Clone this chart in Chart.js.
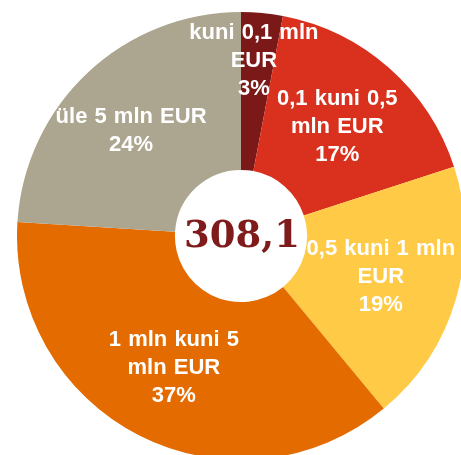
<!DOCTYPE html>
<html>
<head>
<meta charset="utf-8">
<script src="https://cdn.jsdelivr.net/npm/chart.js@4/dist/chart.umd.min.js"></script>
<style>
  html, body { margin: 0; padding: 0; background: #ffffff; overflow: hidden; width: 461px; height: 455px; }
  #wrap { position: absolute; left: 17px; top: 12px; width: 448px; height: 448px; }
</style>
</head>
<body>
<div id="wrap"><canvas id="c" width="448" height="448"></canvas></div>
<script>
// ---- data ----
const categories = ["kuni 0,1 mln EUR", "0,1 kuni 0,5 mln EUR", "0,5 kuni 1 mln EUR", "1 mln kuni 5 mln EUR", "üle 5 mln EUR"];
const labelLines = [
  ["kuni 0,1 mln", "EUR"],
  ["0,1 kuni 0,5", "mln EUR"],
  ["0,5 kuni 1 mln", "EUR"],
  ["1 mln kuni 5", "mln EUR"],
  ["üle 5 mln EUR"]
];
const shares = [3, 17, 19, 37, 24];
const totalLabel = "308,1";

// ---- style ----
const colors = ["#7B1818", "#D9311E", "#FFCA45", "#E36B00", "#ACA590"];
const labelRadiusFrac = [0.785, 0.65, 0.65, 0.66, 0.68];
const labelAngleAdj = [-1.2, 0, 0, 0, -3];

const labelPlugin = {
  id: 'sliceLabels',
  afterDatasetsDraw(chart) {
    const ctx = chart.ctx;
    const meta = chart.getDatasetMeta(0);
    ctx.save();
    ctx.fillStyle = '#ffffff';
    ctx.textAlign = 'center';
    ctx.textBaseline = 'middle';
    ctx.font = 'bold 22px "Liberation Sans", Arial, sans-serif';
    try { ctx.wordSpacing = '1px'; } catch (e) {}
    meta.data.forEach((arc, i) => {
      const p = arc.getProps(['x', 'y', 'startAngle', 'endAngle', 'outerRadius'], true);
      const mid = (p.startAngle + p.endAngle) / 2 + labelAngleAdj[i] * Math.PI / 180;
      const r = p.outerRadius * labelRadiusFrac[i];
      const cx = p.x + Math.cos(mid) * r;
      const cy = p.y + Math.sin(mid) * r;
      const lines = labelLines[i].concat([shares[i] + '%']);
      const lh = 28;
      lines.forEach((t, k) => {
        ctx.fillText(t, cx, cy + (k - (lines.length - 1) / 2) * lh);
      });
    });
    // center total
    const a0 = meta.data[0];
    ctx.fillStyle = '#7F1B1B';
    try { ctx.wordSpacing = '0px'; } catch (e) {}
    ctx.font = 'bold 37px "DejaVu Serif", Georgia, serif';
    ctx.fillText(totalLabel, a0.x + 1, a0.y + 1);
    ctx.restore();
  }
};

new Chart(document.getElementById('c'), {
  type: 'doughnut',
  data: {
    labels: categories,
    datasets: [{
      data: shares,
      backgroundColor: colors,
      borderWidth: 0,
      hoverOffset: 0
    }]
  },
  options: {
    responsive: false,
    animation: false,
    cutout: '29.5%',
    layout: { padding: 0 },
    plugins: {
      legend: { display: false },
      tooltip: { enabled: false }
    }
  },
  plugins: [labelPlugin]
});
</script>
</body>
</html>
